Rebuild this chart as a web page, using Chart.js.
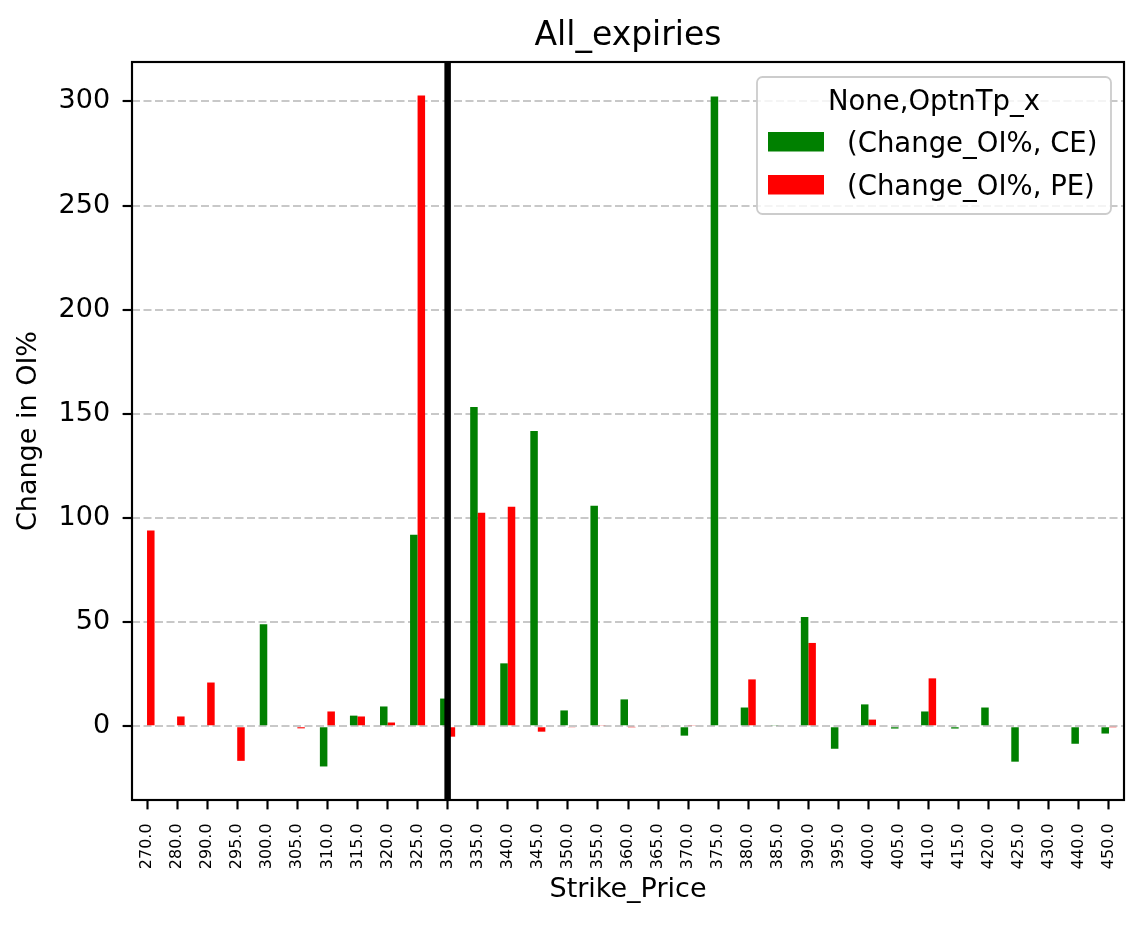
<!DOCTYPE html>
<html>
<head>
<meta charset="utf-8">
<script src="https://cdn.jsdelivr.net/npm/chart.js@4.4.1/dist/chart.umd.min.js"></script>
<style>
html, body { margin: 0; padding: 0; background: #ffffff; }
#c { display: block; }
</style>
</head>
<body>
<canvas id="c" width="1143" height="928"></canvas>
<script>
const chartTitle = "All_expiries";
const xAxisTitle = "Strike_Price";
const yAxisTitle = "Change in OI%";
const legendTitle = "None,OptnTp_x";
const seriesLabels = ["(Change_OI%, CE)", "(Change_OI%, PE)"];
const seriesColors = ["#008000", "#ff0000"];
const spotStrike = "330.0";

const strikes = ["270.0","280.0","290.0","295.0","300.0","305.0","310.0","315.0","320.0","325.0",
  "330.0","335.0","340.0","345.0","350.0","355.0","360.0","365.0","370.0","375.0",
  "380.0","385.0","390.0","395.0","400.0","405.0","410.0","415.0","420.0","425.0",
  "430.0","440.0","450.0"];

const ceChange = [0, 0, 0, 0, 49, 0, -19.3, 5.1, 9.5, 92,
  13.3, 153.3, 30.2, 141.8, 7.6, 105.9, 12.9, 0, -4.5, 302.3,
  9, 0.4, 52.4, -10.8, 10.5, -1.1, 7.1, -1.1, 9, -17,
  0, -8.4, -3.5];

const peChange = [94, 4.7, 21, -16.6, 0, -1, 7.1, 4.7, 1.8, 302.8,
  -5, 102.5, 105.4, -2.6, -0.4, 0.4, -0.3, -0.5, 0.4, 0,
  22.5, 0, 40, 0, 3.2, 0, 23, 0, 0, 0,
  0, 0, -0.3];

const yTicks = [0, 50, 100, 150, 200, 250, 300];
const yMin = -35.4;
const yMax = 318.9;

const FONT = "'DejaVu Sans', sans-serif";

const decorPlugin = {
  id: 'decor',
  afterDatasetsDraw(chart) {
    const ctx = chart.ctx;
    const a = chart.chartArea;
    const xs = chart.scales.x;
    const idx = strikes.indexOf(spotStrike);
    const px = xs.getPixelForValue(idx);
    ctx.save();
    ctx.strokeStyle = '#000000';
    ctx.lineWidth = 6.5;
    ctx.beginPath();
    ctx.moveTo(px, a.top);
    ctx.lineTo(px, a.bottom);
    ctx.stroke();
    ctx.lineWidth = 2.15;
    ctx.strokeRect(a.left, a.top, a.right - a.left, a.bottom - a.top);
    ctx.restore();
  },
  afterDraw(chart) {
    const ctx = chart.ctx;
    const a = chart.chartArea;
    ctx.save();
    ctx.fillStyle = '#000000';
    ctx.font = "33px " + FONT;
    ctx.textAlign = 'center';
    ctx.textBaseline = 'alphabetic';
    ctx.fillText(chartTitle, (a.left + a.right) / 2, 45);
    const lx = 757, ly = 77, lw = 354, lh = 137, r = 5.5;
    ctx.beginPath();
    ctx.moveTo(lx + r, ly);
    ctx.lineTo(lx + lw - r, ly);
    ctx.arcTo(lx + lw, ly, lx + lw, ly + r, r);
    ctx.lineTo(lx + lw, ly + lh - r);
    ctx.arcTo(lx + lw, ly + lh, lx + lw - r, ly + lh, r);
    ctx.lineTo(lx + r, ly + lh);
    ctx.arcTo(lx, ly + lh, lx, ly + lh - r, r);
    ctx.lineTo(lx, ly + r);
    ctx.arcTo(lx, ly, lx + r, ly, r);
    ctx.closePath();
    ctx.fillStyle = 'rgba(255,255,255,0.8)';
    ctx.fill();
    ctx.strokeStyle = '#cccccc';
    ctx.lineWidth = 1.8;
    ctx.stroke();
    ctx.fillStyle = '#000000';
    ctx.font = "27.5px " + FONT;
    ctx.textAlign = 'center';
    ctx.fillText(legendTitle, lx + lw / 2, 110);
    const rows = [132, 175];
    const baselines = [152, 195];
    ctx.textAlign = 'left';
    for (let i = 0; i < seriesLabels.length; i++) {
      ctx.fillStyle = seriesColors[i];
      ctx.fillRect(768, rows[i], 56, 19.5);
      ctx.fillStyle = '#000000';
      ctx.fillText(seriesLabels[i], 847, baselines[i]);
    }
    ctx.restore();
  }
};

new Chart(document.getElementById('c'), {
  type: 'bar',
  data: {
    labels: strikes,
    datasets: [
      { label: seriesLabels[0], data: ceChange, backgroundColor: seriesColors[0], borderWidth: 0,
        categoryPercentage: 0.5, barPercentage: 1.0 },
      { label: seriesLabels[1], data: peChange, backgroundColor: seriesColors[1], borderWidth: 0,
        categoryPercentage: 0.5, barPercentage: 1.0 }
    ]
  },
  options: {
    responsive: false,
    animation: false,
    events: [],
    layout: { padding: { top: 62, right: 19, left: 0, bottom: 0 } },
    plugins: {
      legend: { display: false },
      title: { display: false },
      tooltip: { enabled: false }
    },
    scales: {
      x: {
        offset: true,
        grid: {
          offset: false,
          drawOnChartArea: false,
          drawTicks: true,
          tickLength: 9.4,
          tickWidth: 2.15,
          tickColor: '#000000'
        },
        border: { display: false },
        ticks: {
          autoSkip: false,
          minRotation: 90,
          maxRotation: 90,
          padding: 14,
          color: '#000000',
          font: { family: FONT, size: 16 }
        },
        title: {
          display: true,
          text: xAxisTitle,
          color: '#000000',
          font: { family: FONT, size: 27 },
          padding: { top: 0, bottom: 22 }
        },
        afterFit(scale) { scale.height = 128; }
      },
      y: {
        min: yMin,
        max: yMax,
        grid: {
          color: '#c8c8c8',
          lineWidth: 2,
          drawTicks: true,
          tickLength: 9.4,
          tickWidth: 2.15,
          tickColor: '#000000',
          tickBorderDash: []
        },
        border: { display: false, dash: [8, 3.5] },
        ticks: {
          padding: 12.5,
          color: '#000000',
          font: { family: FONT, size: 27 }
        },
        afterBuildTicks(scale) {
          scale.ticks = yTicks.map(v => ({ value: v }));
        },
        title: {
          display: true,
          text: yAxisTitle,
          color: '#000000',
          font: { family: FONT, size: 27 },
          padding: { top: 12.5, bottom: 0 }
        },
        afterFit(scale) { scale.width = 132; }
      }
    }
  },
  plugins: [decorPlugin]
});
</script>
</body>
</html>
